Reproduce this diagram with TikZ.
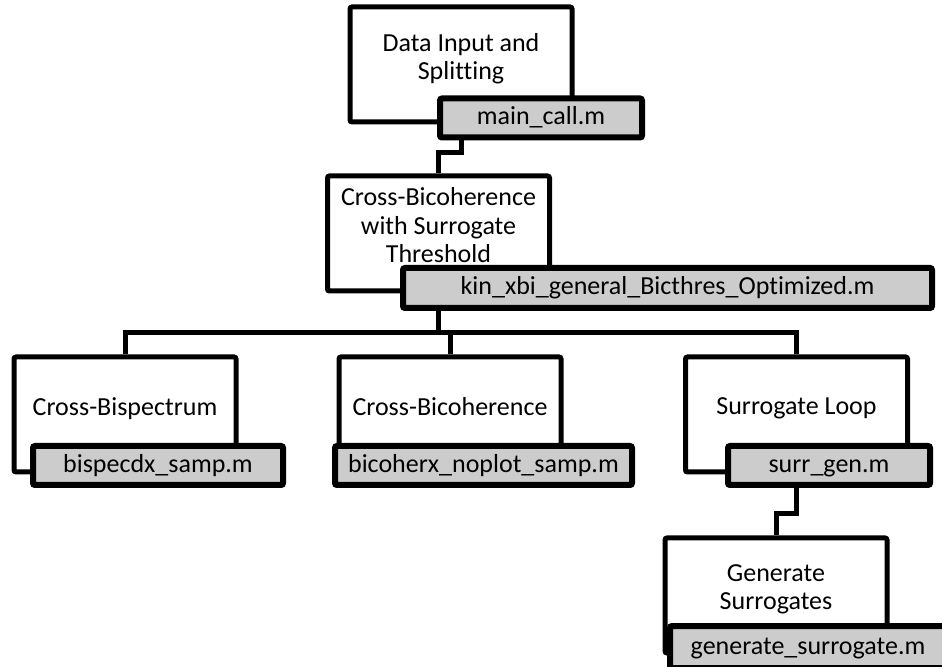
\documentclass[tikz,border=0pt]{standalone}
\usepackage{fontspec}
\setmainfont[Ligatures = NoCommon]{Carlito}
\definecolor{tagfill}{RGB}{204,204,204}
\tikzset{
  procbox/.style = {draw, line width = 2.5pt, fill = white, rounded corners = 1pt,
    minimum width = 111pt, minimum height = 57.5pt, align = center,
    font = \fontsize{13}{14.2}\selectfont, text depth = 8.3pt},
  mfile/.style = {draw, line width = 3pt, fill = tagfill, rounded corners = 1pt,
    minimum height = 19.5pt, inner sep = 0pt, text height = 9pt, text depth = 2pt,
    font = \fontsize{13}{14.2}\selectfont},
  wire/.style = {line width = 2.5pt}
}
\begin{document}
\begin{tikzpicture}[x = 0.5pt, y = -0.5pt]
  \useasboundingbox (0, 0) rectangle (942, 667);
  % process boxes
  \node[procbox] (data) at (461, 64.5) {Data Input and\\Splitting};
  \node[procbox] (xbic) at (438.5, 233.5)
  {Cross-Bicoherence\\with Surrogate\\Threshold};
  \node[procbox] (bisp) at (125, 414.5) {Cross-Bispectrum};
  \node[procbox] (bicoh) at (450, 414.5) {Cross-Bicoherence};
  \node[procbox] (surr) at (796.5, 414.5) {Surrogate Loop};
  \node[procbox] (gen) at (776, 595.5) {Generate\\Surrogates};
  % file tags
  \node[mfile, minimum width = 101pt] (call) at (541, 118) {main\_call.m};
  \node[mfile, minimum width = 264.5pt, minimum height = 20pt] (opt)
  at (667.5, 288) {kin\_xbi\_general\_Bicthres\_Optimized.m};
  \node[mfile, minimum width = 125pt] (bispm) at (158, 465.5)
  {bispecdx\_samp.m};
  \node[mfile, minimum width = 148.5pt] (bicohm) at (483.5, 465.5)
  {bicoherx\_noplot\_samp.m};
  \node[mfile, minimum width = 101pt] (surrm) at (829, 465.5) {surr\_gen.m};
  \node[mfile, minimum width = 138pt, minimum height = 21pt] (genm)
  at (808, 647) {generate\_surrogate.m};
  % connectors
  \draw[wire] (call.south -| data.center) -- ++(0, 12) -| (xbic.north);
  \draw[wire] (opt.south -| xbic.center) -- ++(0, 22) coordinate (bus);
  \draw[wire] (bisp.north) |- (bus) -| (surr.north);
  \draw[wire] (bicoh.north) -- (bicoh.north |- bus);
  \draw[wire] (surrm.south -| surr.center) -- ++(0, 26) -| (gen.north);
\end{tikzpicture}
\end{document}
